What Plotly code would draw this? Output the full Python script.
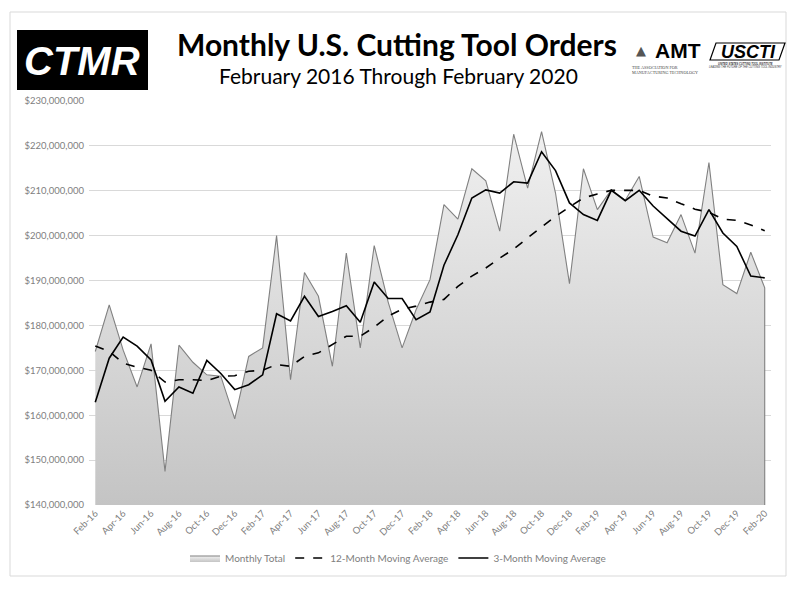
import plotly.graph_objects as go

# ---------------- data (values in millions of US$) ----------------
months = ["Feb-16","Mar-16","Apr-16","May-16","Jun-16","Jul-16","Aug-16","Sep-16","Oct-16","Nov-16","Dec-16",
          "Jan-17","Feb-17","Mar-17","Apr-17","May-17","Jun-17","Jul-17","Aug-17","Sep-17","Oct-17","Nov-17","Dec-17",
          "Jan-18","Feb-18","Mar-18","Apr-18","May-18","Jun-18","Jul-18","Aug-18","Sep-18","Oct-18","Nov-18","Dec-18",
          "Jan-19","Feb-19","Mar-19","Apr-19","May-19","Jun-19","Jul-19","Aug-19","Sep-19","Oct-19","Nov-19","Dec-19",
          "Jan-20","Feb-20"]

monthly_total = [174.2, 184.6, 174.5, 166.3, 175.9, 147.5, 175.6, 171.8, 169.0, 168.7, 159.2,
                 173.1, 175.0, 200.0, 167.9, 191.8, 186.5, 170.9, 196.1, 175.0, 197.8, 185.2, 175.0,
                 183.5, 190.2, 206.9, 203.7, 214.9, 212.2, 201.0, 222.6, 210.6, 223.2, 209.5, 189.3,
                 214.9, 205.8, 210.2, 207.9, 213.2, 199.7, 198.4, 204.7, 196.1, 216.3, 189.1, 187.1,
                 196.3, 188.4]

ma12 = [175.4, 174.2, 171.6, 170.7, 170.0, 167.4, 167.9, 167.9, 167.7, 168.7, 168.8,
        169.8, 170.0, 171.3, 170.9, 173.1, 173.9, 175.7, 177.6, 177.6, 179.6, 182.1, 183.6,
        184.3, 185.2, 185.8, 188.7, 191.0, 192.8, 195.0, 197.0, 199.5, 201.9, 204.3, 206.4,
        208.4, 209.3, 210.1, 210.1, 210.1, 208.8, 208.4, 207.1, 205.9, 205.2, 203.7, 203.4,
        202.4, 201.1]

ma3 = [162.9, 172.7, 177.4, 175.4, 172.3, 163.1, 166.3, 164.9, 172.2, 169.3, 165.7,
       166.8, 169.0, 182.6, 181.0, 186.5, 182.0, 183.1, 184.4, 180.7, 189.7, 186.0, 186.0,
       181.3, 183.0, 193.4, 200.2, 208.4, 210.2, 209.5, 212.0, 211.7, 218.7, 214.5, 207.3,
       204.7, 203.4, 210.1, 207.8, 210.1, 206.6, 203.9, 201.0, 199.9, 205.8, 200.6, 197.6,
       191.0, 190.6]

series_names = ["Monthly Total", "12-Month Moving Average", "3-Month Moving Average"]
y_min, y_max, y_step = 140, 230, 10  # millions

M = 1e6
FONT = "Lato"
GRAY_TXT = "#808080"

fig = go.Figure()

# Area (closed polygon down to axis floor so the side edges are outlined)
area_x = months + [months[-1], months[0]]
area_y = [v * M for v in monthly_total] + [(y_min - 2) * M, (y_min - 2) * M]
fig.add_trace(go.Scatter(
    x=area_x, y=area_y, name=series_names[0], mode="lines", fill="toself",
    line=dict(color="#808080", width=1.1),
    fillgradient=dict(type="vertical",
                      colorscale=[[0, "#c4c4c4"], [1, "#f1f1f1"]],
                      start=y_min * M, stop=225 * M),
    hoverinfo="skip"))

fig.add_trace(go.Scatter(
    x=months, y=[v * M for v in ma12], name=series_names[1], mode="lines",
    line=dict(color="#000000", width=1.6, dash="dash")))

fig.add_trace(go.Scatter(
    x=months, y=[v * M for v in ma3], name=series_names[2], mode="lines",
    line=dict(color="#000000", width=1.6)))

# ---------------- layout ----------------
L, R, T, B = 89, 29, 101, 84
W, H = 800, 589
PW, PH = W - L - R, H - T - B

def px(x):
    return (x - L) / PW

def py(y):
    return 1 - (y - T) / PH

fig.update_layout(
    width=W, height=H,
    margin=dict(l=L, r=R, t=T, b=B, autoexpand=False),
    paper_bgcolor="white", plot_bgcolor="white",
    font=dict(family=FONT, color=GRAY_TXT, size=10),
    showlegend=True,
    legend=dict(orientation="h", x=px(398), xanchor="center", y=py(558), yanchor="middle",
                font=dict(size=10, color=GRAY_TXT, family=FONT),
                itemwidth=30, traceorder="normal", bgcolor="rgba(0,0,0,0)"),
    xaxis=dict(type="category", range=[-0.45, len(months) - 1 + 0.45], automargin=False,
               tickmode="array", tickvals=months[::2], ticktext=months[::2],
               tickangle=-45, tickfont=dict(size=9.5, color=GRAY_TXT, family=FONT),
               showgrid=False, showline=False, zeroline=False, ticks=""),
    yaxis=dict(range=[y_min * M, y_max * M], dtick=y_step * M, tickformat="$,.0f", automargin=False,
               tickfont=dict(size=9.5, color=GRAY_TXT, family=FONT),
               showgrid=True, gridcolor="#d9d9d9", gridwidth=1,
               zeroline=False, showline=False, ticks="", ticklabelstandoff=4),
)

shapes = []
# outer chart border
shapes.append(dict(type="rect", xref="paper", yref="paper",
                   x0=px(10), x1=px(786), y0=py(576), y1=py(12),
                   line=dict(color="#d9d9d9", width=1), fillcolor="rgba(0,0,0,0)", layer="below"))
# CTMR logo box
shapes.append(dict(type="rect", xref="paper", yref="paper",
                   x0=px(17), x1=px(148), y0=py(90), y1=py(30),
                   line=dict(width=0), fillcolor="black"))
# USCTI slanted box
shapes.append(dict(type="path", xref="paper", yref="paper",
                   path=f"M {px(710)},{py(60)} L {px(716)},{py(43)} L {px(785)},{py(43)} L {px(779)},{py(60)} Z",
                   line=dict(color="black", width=1.2), fillcolor="white"))
fig.update_layout(shapes=shapes)

ann = []
ann.append(dict(text="<b>Monthly U.S. Cutting Tool Orders</b>", x=px(397), y=py(44.5),
                xref="paper", yref="paper", showarrow=False, xanchor="center", yanchor="middle",
                font=dict(family=FONT, size=30, color="black")))
ann.append(dict(text="February 2016 Through February 2020", x=px(398), y=py(76),
                xref="paper", yref="paper", showarrow=False, xanchor="center", yanchor="middle",
                font=dict(family=FONT, size=21, color="black")))
ann.append(dict(text="<b><i>CTMR</i></b>", x=px(82), y=py(61),
                xref="paper", yref="paper", showarrow=False, xanchor="center", yanchor="middle",
                font=dict(family="Liberation Sans", size=40, color="white")))
ann.append(dict(text="<b>AMT</b>", x=px(678), y=py(50.5),
                xref="paper", yref="paper", showarrow=False, xanchor="center", yanchor="middle",
                font=dict(family="Liberation Sans Narrow, Liberation Sans", size=21, color="black")))
ann.append(dict(text="▲", x=px(641), y=py(51),
                xref="paper", yref="paper", showarrow=False, xanchor="center", yanchor="middle",
                font=dict(family="DejaVu Sans", size=13, color="#555555")))
ann.append(dict(text="THE ASSOCIATION FOR<br>MANUFACTURING TECHNOLOGY", x=px(630), y=py(70),
                xref="paper", yref="paper", showarrow=False, xanchor="left", yanchor="middle", align="left",
                font=dict(family="Liberation Serif", size=4.2, color="#444444")))
ann.append(dict(text="<b><i>USCTI</i></b>", x=px(748), y=py(51.5),
                xref="paper", yref="paper", showarrow=False, xanchor="center", yanchor="middle",
                font=dict(family="Liberation Sans", size=18, color="black")))
ann.append(dict(text="<b><i>UNITED STATES CUTTING TOOL INSTITUTE</i></b><br><i>LEADING THE FUTURE OF THE CUTTING TOOL INDUSTRY</i>",
                x=px(745), y=py(66),
                xref="paper", yref="paper", showarrow=False, xanchor="center", yanchor="middle", align="center",
                font=dict(family="Liberation Sans", size=2.6, color="#333333")))
fig.update_layout(annotations=ann)

fig.write_html("out.html", config={"displayModeBar": False},
               post_script="document.body.style.margin='0px';")
